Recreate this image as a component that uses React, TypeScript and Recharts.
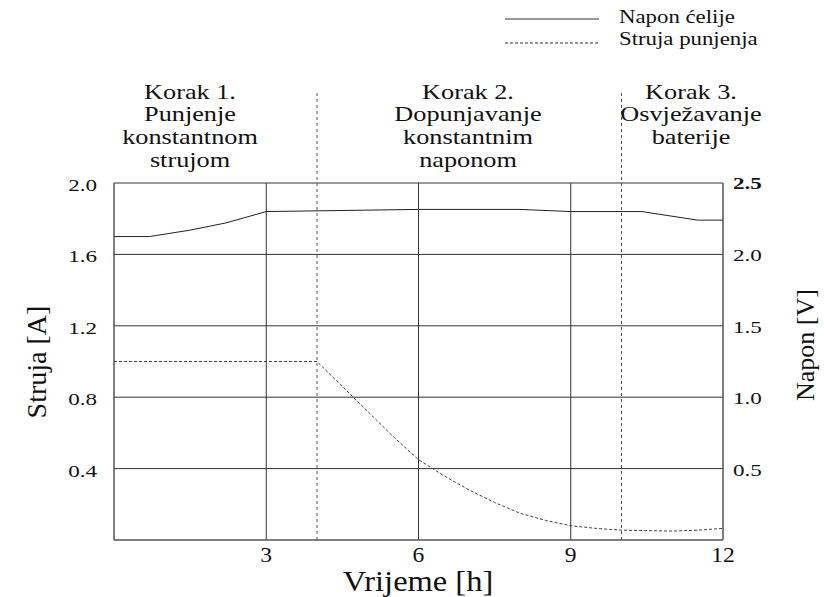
import React from "react";
import {
  LineChart,
  Line,
  XAxis,
  YAxis,
  CartesianGrid,
  ReferenceLine,
} from "recharts";

// napon celije (V) - desna os
const voltageHours = [0, 0.7, 1.5, 2.2, 3, 4, 6, 8, 9, 10.4, 11.5, 12];
const voltageValues = [2.125, 2.125, 2.17, 2.22, 2.3, 2.305, 2.315, 2.315, 2.3, 2.3, 2.24, 2.24];

// struja punjenja (A) - lijeva os
const currentHours = [0, 4, 4.5, 5, 5.5, 6, 6.5, 7, 7.5, 8, 8.5, 9, 9.5, 10, 11, 11.5, 12];
const currentValues = [1.0, 1.0, 0.86, 0.72, 0.58, 0.45, 0.36, 0.28, 0.21, 0.15, 0.11, 0.08, 0.065, 0.055, 0.05, 0.055, 0.065];

const xTicks = [0, 3, 6, 9, 12];
const leftTicks = [0, 0.4, 0.8, 1.2, 1.6, 2.0];
const rightTicks = [0, 0.5, 1.0, 1.5, 2.0, 2.5];
const stepBorders = [4, 10];

const steps = [
  { x: 190, lines: ["Korak 1.", "Punjenje", "konstantnom", "strujom"] },
  { x: 468, lines: ["Korak 2.", "Dopunjavanje", "konstantnim", "naponom"] },
  { x: 691, lines: ["Korak 3.", "Osvježavanje", "baterije"] },
];

const legendItems = [
  { name: "Napon ćelije", dash: undefined as string | undefined },
  { name: "Struja punjenja", dash: "3 2" },
];

const voltageData = voltageHours.map((h, i) => ({ h, v: voltageValues[i] }));
const currentData = currentHours.map((h, i) => ({ h, a: currentValues[i] }));

const FONT = "'Liberation Serif', 'Times New Roman', serif";

const LeftTick = (props: any) => {
  const { x, y, payload } = props;
  if (payload.value === 0) return null;
  return (
    <text
      transform={`translate(${x},${y}) scale(1.4,1)`}
      dy={8}
      textAnchor="end"
      fontFamily={FONT}
      fontSize={16.5}
      fill="#111"
    >
      {payload.value.toFixed(1)}
    </text>
  );
};

const RightTick = (props: any) => {
  const { x, y, payload } = props;
  if (payload.value === 0) return null;
  const top = payload.value === 2.5;
  return (
    <text
      transform={`translate(${x},${y}) scale(1.4,1)`}
      dy={top ? 6 : 7}
      textAnchor="start"
      fontFamily={FONT}
      fontSize={16.5}
      fontWeight={top ? "bold" : "normal"}
      fill="#111"
    >
      {payload.value.toFixed(1)}
    </text>
  );
};

const BottomTick = (props: any) => {
  const { x, y, payload } = props;
  if (payload.value === 0) return null;
  return (
    <text
      transform={`translate(${x},${y}) scale(1.15,1)`}
      dy={14}
      textAnchor="middle"
      fontFamily={FONT}
      fontSize={20.5}
      fill="#111"
    >
      {payload.value}
    </text>
  );
};

export default function App() {
  return (
    <div style={{ position: "relative", width: 824, height: 597, fontFamily: FONT }}>
      <style>{`body{margin:0}`}</style>
      <LineChart
        width={824}
        height={597}
        margin={{ top: 183, right: 41, left: 54, bottom: 27 }}
      >
        <CartesianGrid stroke="#333" yAxisId="left" />
        <XAxis
          dataKey="h"
          type="number"
          domain={[0, 12]}
          ticks={xTicks}
          tickLine={false}
          tickSize={0}
          tickMargin={8}
          axisLine={{ stroke: "#666" }}
          height={30}
          tick={<BottomTick />}
        />
        <YAxis
          yAxisId="left"
          domain={[0, 2]}
          ticks={leftTicks}
          tickLine={false}
          tickSize={0}
          tickMargin={17}
          axisLine={{ stroke: "#666" }}
          width={60}
          tick={<LeftTick />}
        />
        <YAxis
          yAxisId="right"
          orientation="right"
          domain={[0, 2.5]}
          ticks={rightTicks}
          tick={<RightTick />}
          tickLine={false}
          tickSize={0}
          tickMargin={10}
          axisLine={{ stroke: "#666" }}
          width={60}
        />
        {stepBorders.map((x) => (
          <ReferenceLine
            key={x}
            yAxisId="left"
            segment={[
              { x, y: 0 },
              { x, y: 2.51 },
            ]}
            ifOverflow="visible"
            stroke="#555"
            strokeDasharray="3 3"
          />
        ))}
        <Line
          data={voltageData}
          dataKey="v"
          yAxisId="right"
          type="linear"
          stroke="#222"
          strokeWidth={1}
          dot={false}
          isAnimationActive={false}
        />
        <Line
          data={currentData}
          dataKey="a"
          yAxisId="left"
          type="linear"
          stroke="#444"
          strokeWidth={1}
          strokeDasharray="3 2"
          dot={false}
          isAnimationActive={false}
        />
      </LineChart>

      {/* legenda */}
      {legendItems.map((item, i) => (
        <div key={item.name}>
          <svg
            width={94}
            height={4}
            style={{ position: "absolute", left: 505, top: 17 + i * 24 }}
          >
            <line x1={0} y1={2} x2={94} y2={2} stroke="#333" strokeWidth={1} strokeDasharray={item.dash} />
          </svg>
          <div
            style={{
              position: "absolute",
              left: 619,
              top: 6 + i * 21.5,
              fontSize: 19,
              lineHeight: "22px",
              whiteSpace: "nowrap",
              transform: "scaleX(1.2)",
              transformOrigin: "left center",
              color: "#111",
            }}
          >
            {item.name}
          </div>
        </div>
      ))}

      {/* koraci punjenja */}
      {steps.map((s) => (
        <div
          key={s.x}
          style={{
            position: "absolute",
            left: s.x - 100,
            top: 80.5,
            width: 200,
            textAlign: "center",
            fontSize: 21,
            lineHeight: "22.7px",
            transform: "scaleX(1.25)",
            transformOrigin: "center top",
            color: "#111",
          }}
        >
          {s.lines.map((l) => (
            <div key={l}>{l}</div>
          ))}
        </div>
      ))}

      <div
        style={{
          position: "absolute",
          left: 37 - 80,
          top: 362 - 16,
          width: 160,
          height: 32,
          textAlign: "center",
          fontSize: 28,
          lineHeight: "32px",
          whiteSpace: "nowrap",
          transform: "rotate(-90deg)",
          color: "#111",
        }}
      >
        Struja [A]
      </div>
      <div
        style={{
          position: "absolute",
          left: 806 - 80,
          top: 345 - 16,
          width: 160,
          height: 32,
          textAlign: "center",
          fontSize: 26,
          lineHeight: "32px",
          whiteSpace: "nowrap",
          transform: "rotate(-90deg)",
          color: "#111",
        }}
      >
        Napon [V]
      </div>
      <div
        style={{
          position: "absolute",
          left: 418 - 120,
          top: 565,
          width: 240,
          textAlign: "center",
          fontSize: 29,
          lineHeight: "32px",
          whiteSpace: "nowrap",
          transform: "scaleX(1.12)",
          color: "#111",
        }}
      >
        Vrijeme [h]
      </div>
    </div>
  );
}
